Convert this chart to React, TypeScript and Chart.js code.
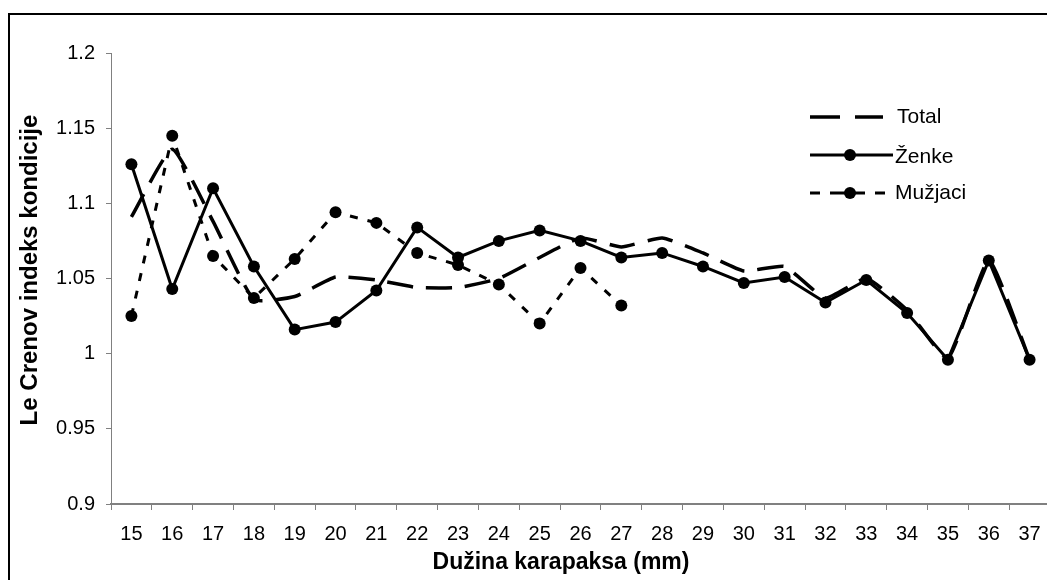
import React, { useEffect, useRef } from "react";
import { Chart, registerables } from "chart.js";

Chart.register(...registerables);

const categories = ["15","16","17","18","19","20","21","22","23","24","25","26","27","28","29","30","31","32","33","34","35","36","37"];
const totalValues = [1.091, 1.136, 1.088, 1.036, 1.038, 1.051, 1.049, 1.044, 1.044, 1.050, 1.064, 1.077, 1.071, 1.077, 1.067, 1.055, 1.058, 1.037, 1.050, 1.029, 0.997, 1.062, 0.996];
const zenkeValues = [1.126, 1.043, 1.110, 1.058, 1.016, 1.021, 1.042, 1.084, 1.064, 1.075, 1.082, 1.075, 1.064, 1.067, 1.058, 1.047, 1.051, 1.034, 1.049, 1.027, 0.996, 1.062, 0.996];
const muzjaciValues = [1.025, 1.145, 1.065, 1.037, 1.063, 1.094, 1.087, 1.067, 1.059, 1.046, 1.020, 1.057, 1.032, null, null, null, null, null, null, null, null, null, null];
const seriesNames = ["Total", "Ženke", "Mužjaci"];
const yTitle = "Le Crenov indeks kondicije";
const xTitle = "Dužina karapaksa (mm)";

const FONT = "'Liberation Sans', Arial, sans-serif";

const TOTAL_DASH = [26, 13];
const MUZ_DASH = [8, 10];

const decorPlugin = {
  id: "decor",
  afterDraw(chart: any) {
    const ctx = chart.ctx;
    ctx.save();
    ctx.strokeStyle = "#000";
    ctx.lineWidth = 2;
    ctx.beginPath();
    ctx.moveTo(9, 700);
    ctx.lineTo(9, 14);
    ctx.lineTo(1100, 14);
    ctx.stroke();

    ctx.fillStyle = "#000";
    ctx.textAlign = "center";
    ctx.textBaseline = "middle";
    ctx.font = `bold 23px ${FONT}`;
    ctx.fillText(xTitle, 561, 563);
    ctx.save();
    ctx.translate(30, 270);
    ctx.rotate(-Math.PI / 2);
    ctx.font = `bold 24px ${FONT}`;
    ctx.fillText(yTitle, 0, 0);
    ctx.restore();

    const x0 = 810, x1 = 893;
    const rows = [117, 155, 193];
    ctx.lineCap = "butt";
    ctx.lineWidth = 3.5;
    ctx.setLineDash([]);
    ctx.beginPath();
    ctx.moveTo(810, rows[0]); ctx.lineTo(840, rows[0]);
    ctx.moveTo(855, rows[0]); ctx.lineTo(883, rows[0]);
    ctx.stroke();
    ctx.lineWidth = 3;
    ctx.beginPath();
    ctx.moveTo(x0, rows[1]); ctx.lineTo(x1, rows[1]);
    ctx.stroke();
    ctx.beginPath();
    ctx.arc(850, rows[1], 6, 0, Math.PI * 2);
    ctx.fill();
    ctx.beginPath();
    ctx.moveTo(810, rows[2]); ctx.lineTo(820, rows[2]);
    ctx.moveTo(830, rows[2]); ctx.lineTo(865, rows[2]);
    ctx.moveTo(875, rows[2]); ctx.lineTo(885, rows[2]);
    ctx.stroke();
    ctx.beginPath();
    ctx.arc(850, rows[2], 6, 0, Math.PI * 2);
    ctx.fill();

    ctx.font = `21px ${FONT}`;
    ctx.textAlign = "left";
    ctx.textBaseline = "middle";
    ctx.fillText(seriesNames[0], 897, rows[0]);
    ctx.fillText(seriesNames[1], 895, rows[1] + 2);
    ctx.fillText(seriesNames[2], 895, rows[2]);
    ctx.restore();
  },
};

export default function App() {
  const ref = useRef<HTMLCanvasElement | null>(null);
  useEffect(() => {
    if (!ref.current) return;
    const chart = new Chart(ref.current, {
      type: "line",
      data: {
        labels: categories,
        datasets: [
          {
            label: seriesNames[0],
            data: totalValues,
            borderColor: "#000",
            backgroundColor: "#000",
            borderWidth: 3.5,
            borderDash: TOTAL_DASH,
            pointRadius: 0,
            tension: 0.15,
            fill: false,
          },
          {
            label: seriesNames[1],
            data: zenkeValues,
            borderColor: "#000",
            backgroundColor: "#000",
            borderWidth: 3,
            pointRadius: 6,
            pointBackgroundColor: "#000",
            pointBorderWidth: 0,
            tension: 0,
            fill: false,
          },
          {
            label: seriesNames[2],
            data: muzjaciValues,
            borderColor: "#000",
            backgroundColor: "#000",
            borderWidth: 3,
            borderDash: MUZ_DASH,
            pointRadius: 6,
            pointBackgroundColor: "#000",
            pointBorderWidth: 0,
            tension: 0,
            spanGaps: false,
            fill: false,
          },
        ],
      },
      options: {
        animation: false,
        responsive: false,
        maintainAspectRatio: false,
        layout: { padding: { left: 0, right: 20, top: 53, bottom: 0 } },
        plugins: {
          legend: { display: false },
          tooltip: { enabled: false },
          title: { display: false },
        },
        scales: {
          x: {
            type: "category",
            offset: true,
            afterFit: (s: any) => { s.height = 96; },
            grid: {
              offset: true,
              drawOnChartArea: false,
              drawTicks: true,
              tickLength: 6,
              color: "#808080",
              lineWidth: 1,
            },
            border: { display: true, color: "#808080", width: 2 },
            ticks: {
              color: "#000",
              font: { family: FONT, size: 20 },
              padding: 12,
              maxRotation: 0,
              autoSkip: false,
            },
          },
          y: {
            min: 0.9,
            max: 1.2,
            afterFit: (s: any) => { s.width = 111; },
            grid: {
              drawOnChartArea: false,
              drawTicks: true,
              tickLength: 5,
              color: "#808080",
              lineWidth: 1,
            },
            border: { display: true, color: "#808080", width: 1 },
            ticks: {
              stepSize: 0.05,
              color: "#000",
              font: { family: FONT, size: 20 },
              padding: 11,
              callback: (v: any) => String(Math.round(Number(v) * 100) / 100),
            },
          },
        },
      },
      plugins: [decorPlugin],
    });
    return () => chart.destroy();
  }, []);

  return (
    <div style={{ position: "absolute", left: 0, top: 0, width: 1047, height: 580, overflow: "hidden", background: "#fff" }}>
      <canvas ref={ref} width={1070} height={600} style={{ display: "block", width: 1070, height: 600 }} />
    </div>
  );
}
